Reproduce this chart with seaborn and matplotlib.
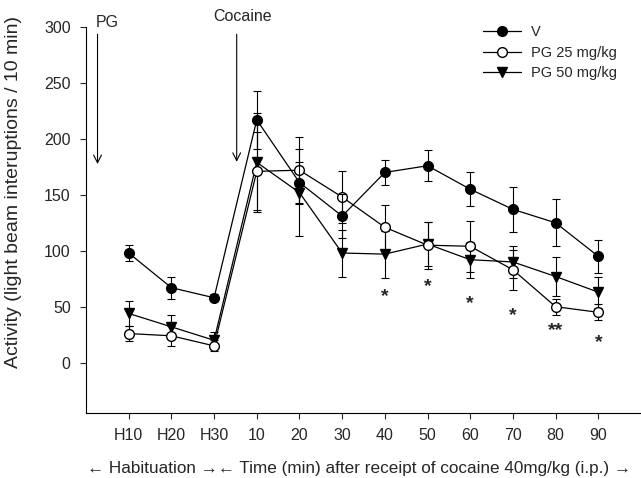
import pandas as pd
import matplotlib
matplotlib.use("Agg")
import matplotlib.pyplot as plt
import seaborn as sns
import numpy as np

sns.set_style("ticks")
plt.rcParams['font.family'] = ['Liberation Sans', 'DejaVu Sans']

# data
time_labels = ['H10', 'H20', 'H30', '10', '20', '30', '40', '50', '60', '70', '80', '90']
v_mean = [98, 67, 58, 217, 161, 131, 170, 176, 155, 137, 125, 95]
v_sem = [7, 10, 3, 26, 18, 20, 11, 14, 15, 20, 21, 15]
pg25_mean = [26, 24, 15, 171, 172, 148, 121, 105, 104, 83, 50, 45]
pg25_sem = [7, 9, 5, 35, 30, 23, 20, 21, 23, 18, 7, 7]
pg50_mean = [44, 32, 20, 179, 152, 98, 97, 106, 92, 90, 77, 63]
pg50_sem = [11, 11, 7, 44, 39, 21, 21, 20, 16, 14, 17, 14]
star_pos = ['40', '50', '60', '70', '80', '90']
star_y = [59, 68, 53, 42, 29, 18]
star_txt = ['*', '*', '*', '*', '**', '*']

x = np.arange(len(time_labels))
series = [
    ("V", v_mean, v_sem, dict(marker='o', markerfacecolor='black'), 4),
    ("PG 25 mg/kg", pg25_mean, pg25_sem, dict(marker='o', markerfacecolor='white'), 3),
    ("PG 50 mg/kg", pg50_mean, pg50_sem, dict(marker='v', markerfacecolor='black'), 2),
]

fig = plt.figure(figsize=(6.41, 4.78), dpi=100)
ax = fig.add_axes([86/641, 65/478, 555/641, 386/478])

for name, mean, sem, mk, z in series:
    df = pd.DataFrame({"t": x, "val": mean})
    ax.errorbar(x, mean, yerr=sem, fmt='none', ecolor='black', elinewidth=0.8,
                capsize=3, capthick=0.8, zorder=z)
    sns.lineplot(data=df, x="t", y="val", color='black', lw=0.9, markersize=7,
                 markeredgecolor='black', markeredgewidth=1.0, label=name,
                 zorder=z + 0.5, ax=ax, **mk)

for pos, yy, s in zip(star_pos, star_y, star_txt):
    ax.text(time_labels.index(pos), yy, s, ha='center', va='center',
            fontsize=14, fontweight='bold')

# treatment arrows
ax.annotate('', xy=(-0.73, 175), xytext=(-0.73, 296),
            arrowprops=dict(arrowstyle='->', color='black', lw=0.8, mutation_scale=14))
ax.text(-0.77, 304, 'PG', ha='left', va='center', fontsize=11.5)
ax.annotate('', xy=(2.53, 177), xytext=(2.53, 296),
            arrowprops=dict(arrowstyle='->', color='black', lw=0.8, mutation_scale=14))
ax.text(2.67, 309, 'Cocaine', ha='center', va='center', fontsize=11.5)

ax.set_xlim(-1, 12)
ax.set_ylim(-45, 300)
ax.set_xticks(x)
ax.set_xticklabels(time_labels)
ax.set_yticks([0, 50, 100, 150, 200, 250, 300])
ax.tick_params(labelsize=11.5, length=4, width=0.8, pad=7)
for sp in ['top', 'right']:
    ax.spines[sp].set_visible(False)
for sp in ['left', 'bottom']:
    ax.spines[sp].set_linewidth(0.8)
    ax.spines[sp].set_color('black')

ax.set_xlabel('')
ax.set_ylabel('Activity (light beam interuptions / 10 min)', fontsize=14)
ax.yaxis.set_label_coords(-0.116, 0.573)

leg = ax.legend(loc='upper left', bbox_to_anchor=(476/641, 1 - 18/478),
                bbox_transform=fig.transFigure, frameon=False, fontsize=10.5,
                handlelength=2.6, handletextpad=0.7, labelspacing=0.44, borderpad=0)

fig.text(87/641, 9/478, '← Habituation →← Time (min) after receipt of cocaine 40mg/kg (i.p.) →',
         ha='left', va='center', fontsize=12.3)

plt.savefig('out.png', dpi=100)
plt.close()
